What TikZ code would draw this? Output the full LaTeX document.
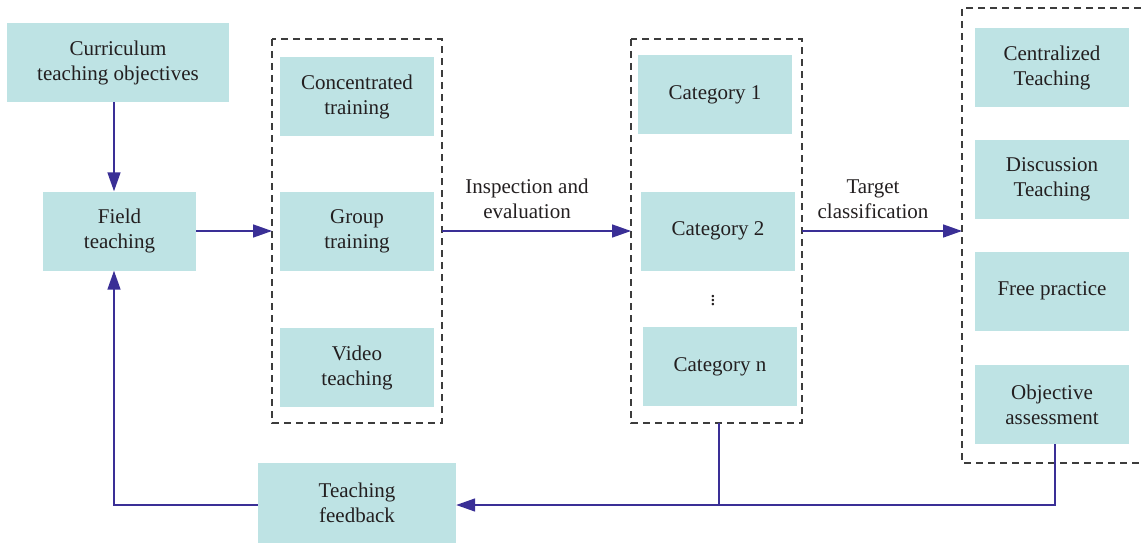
\documentclass[tikz,border=0pt]{standalone}
\usepackage{fontspec}
\setmainfont{Liberation Serif}
\usetikzlibrary{arrows.meta,positioning}

\definecolor{boxfill}{HTML}{BEE3E4}
\definecolor{linkcol}{HTML}{3A2F96}
\definecolor{txtcol}{HTML}{231F20}
\definecolor{dashcol}{HTML}{3C3C3C}

\begin{document}
\begin{tikzpicture}[x=1pt, y=-1pt, node distance={33pt},
        main/.style = {fill=boxfill, text=txtcol, align=center, inner sep=0pt,
                       minimum width=154pt, minimum height=79pt,
                       font=\fontsize{21}{25}\selectfont},
        lbl/.style = {text=txtcol, align=center, font=\fontsize{21}{25}\selectfont},
        group/.style = {draw=dashcol, line width=1.4pt, dash pattern=on 7pt off 5pt},
        link/.style = {draw=linkcol, line width=1.6pt},
        arr/.style = {link, -{Triangle[length=19pt,width=13pt]}}]
            \useasboundingbox (0,0) rectangle (1141,543);
            % left part
            \node[main, minimum width=222pt] (curr) at (118,62.5) {Curriculum\\teaching objectives};
            \node[main, minimum width=153pt] (field) at (119.5,231) {Field\\teaching};
            \node[main, minimum width=198pt, minimum height=80pt] (fb) at (357,503) {Teaching\\feedback};
            % training forms
            \node[main] (conc) at (357,96.5) {Concentrated\\training};
            \node[main] (grp) at (357,231.5) {Group\\training};
            \node[main] (video) at (357,367.5) {Video\\teaching};
            \draw[group] (272,39) rectangle (442,423);
            \coordinate (d1w) at (272,231);
            \coordinate (d1e) at (442,231);
            % categories
            \node[main] (cat1) at (715,94.5) {Category 1};
            \node[main] (cat2) at (718,231) {Category 2};
            \node[text=txtcol, inner sep=0pt, font=\fontsize{21}{25}\selectfont] (dots) at (713,298) {$\vdots$};
            \node[main] (catn) at (720,366.5) {Category n};
            \draw[group] (631,39) rectangle (802,423);
            \coordinate (d2w) at (631,231);
            \coordinate (d2e) at (802,231);
            \coordinate (d2s) at (719,423);
            % teaching modes
            \node[main] (cent) at (1052,67.5) {Centralized\\Teaching};
            \node[main] (disc) at (1052,179) {Discussion\\Teaching};
            \node[main] (free) at (1052,291) {Free practice};
            \node[main] (obj) at (1052,404.5) {Objective\\assessment};
            \draw[group] (1141,8) -- (962,8) -- (962,463) -- (1141,463);
            \coordinate (d3w) at (962,231);
            % labels
            \node[lbl] (insp) at (527,199) {Inspection and\\evaluation};
            \node[lbl] (targ) at (873,199) {Target\\classification};
            % connectors
            \draw[arr] (curr.south -| 114,0) -- (field.north -| 114,0);
            \draw[arr] (field.east |- d1w) -- (d1w);
            \draw[arr] (d1e) -- (d2w);
            \draw[arr] (d2e) -- (d3w);
            \coordinate (j1) at (719,505);
            \draw[link] (d2s) -- (j1);
            \draw[arr] (obj.south -| 1055,0) |- (fb.east |- j1);
            \draw[arr] (fb.west |- j1) -| (field.south -| 114,0);
        \end{tikzpicture}
\end{document}
